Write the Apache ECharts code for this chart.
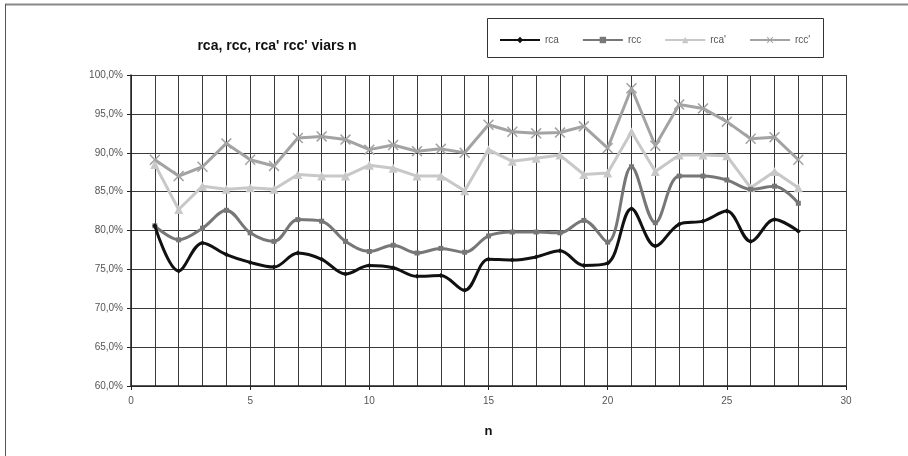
<!DOCTYPE html>
<html>
<head>
<meta charset="utf-8">
<script src="https://cdn.jsdelivr.net/npm/echarts@6/dist/echarts.min.js"></script>
<style>
html,body{margin:0;padding:0;background:#fff}
#chart{width:908px;height:456px}
</style>
</head>
<body>
<div id="chart"></div>
<script>
// n = 1..28
var ns = [1,2,3,4,5,6,7,8,9,10,11,12,13,14,15,16,17,18,19,20,21,22,23,24,25,26,27,28]
var rca = [80.6,74.8,78.4,76.9,75.9,75.3,77.1,76.3,74.4,75.5,75.2,74.1,74.2,72.3,76.3,76.2,76.6,77.4,75.5,75.8,82.8,78.0,80.8,81.2,82.5,78.6,81.4,79.9]
var rcc = [80.6,78.8,80.3,82.6,79.7,78.6,81.4,81.2,78.6,77.3,78.1,77.1,77.7,77.2,79.3,79.8,79.8,79.7,81.3,78.5,88.2,81.0,87.0,87.0,86.5,85.3,85.7,83.5]
var rcaP = [88.5,82.7,85.7,85.3,85.5,85.3,87.2,87.0,87.0,88.4,88.0,87.0,87.0,85.1,90.4,88.9,89.3,89.7,87.2,87.4,92.7,87.6,89.7,89.7,89.6,85.5,87.6,85.5]
var rccP = [89.1,87.0,88.2,91.2,89.1,88.3,91.9,92.1,91.7,90.4,91.0,90.2,90.5,90.0,93.6,92.7,92.5,92.6,93.4,90.6,98.3,90.9,96.2,95.7,94.0,91.8,92.0,89.1]
var names = ['rca','rcc',"rca'","rcc'"]

var pairs = function(ys){ return ys.map(function(y,i){ return [ns[i], y] }) }
var xMark = 'path://M0,1L1,0L5,4L9,0L10,1L6,5L10,9L9,10L5,6L1,10L0,9L4,5Z'
var gridLine = {show:true, lineStyle:{color:'#3a3a3a', width:1}}

var chart = echarts.init(document.getElementById('chart'))
chart.setOption({
    animation:false,
    title:{
        text:"rca, rcc, rca' rcc' viars n",
        left:272, top:34, textAlign:'center',
        textStyle:{fontFamily:'Liberation Sans', fontSize:14, fontWeight:'bold', color:'#111'}
    },
    legend:{
        data:names,
        left:494, top:30,
        itemWidth:40, itemHeight:8, itemGap:23,
        textStyle:{fontFamily:'Liberation Sans', fontSize:10, color:'#555'}
    },
    graphic:[
        {type:'rect', shape:{x:487.5, y:18.5, width:336, height:39}, style:{fill:'none', stroke:'#333', lineWidth:1}},
        {type:'line', shape:{x1:5, y1:4.5, x2:908, y2:4.5}, style:{stroke:'#888', lineWidth:2}},
        {type:'line', shape:{x1:5.5, y1:4, x2:5.5, y2:456}, style:{stroke:'#555', lineWidth:1}}
    ],
    grid:{left:131, right:62, top:75, bottom:70},
    xAxis:{
        type:'value', min:0, max:30, interval:5,
        name:'n', nameLocation:'middle', nameGap:39,
        nameTextStyle:{fontFamily:'Liberation Sans', fontSize:13, fontWeight:'bold', color:'#111'},
        axisLine:{onZero:false, lineStyle:{color:'#222', width:1.5}},
        axisTick:{show:true, length:4, lineStyle:{color:'#222'}},
        axisLabel:{fontFamily:'Liberation Sans', fontSize:10, color:'#555', margin:10},
        splitLine:gridLine,
        minorTick:{show:false, splitNumber:5},
        minorSplitLine:gridLine
    },
    yAxis:{
        type:'value', min:60, max:100, interval:5,
        axisLine:{show:true, lineStyle:{color:'#222', width:1.5}},
        axisTick:{show:true, length:4, lineStyle:{color:'#222'}},
        axisLabel:{fontFamily:'Liberation Sans', fontSize:10, color:'#555', margin:8,
            formatter:function(v){ return v.toFixed(1).replace('.',',') + '%' }},
        splitLine:gridLine
    },
    series:[
        {name:'rca', type:'line', data:pairs(rca), smooth:0.35, symbol:'diamond', symbolSize:5,
         lineStyle:{color:'#111', width:3}, itemStyle:{color:'#111'}, z:5},
        {name:'rcc', type:'line', data:pairs(rcc), smooth:0.35, symbol:'rect', symbolSize:5,
         lineStyle:{color:'#777', width:3}, itemStyle:{color:'#777'}, z:4},
        {name:"rca'", type:'line', data:pairs(rcaP), symbol:'triangle', symbolSize:9,
         lineStyle:{color:'#c8c8c8', width:3}, itemStyle:{color:'#c8c8c8'}, z:3},
        {name:"rcc'", type:'line', data:pairs(rccP), symbol:xMark, symbolSize:11,
         lineStyle:{color:'#a3a3a3', width:3}, itemStyle:{color:'#a3a3a3'}, z:3}
    ]
})
</script>
</body>
</html>
